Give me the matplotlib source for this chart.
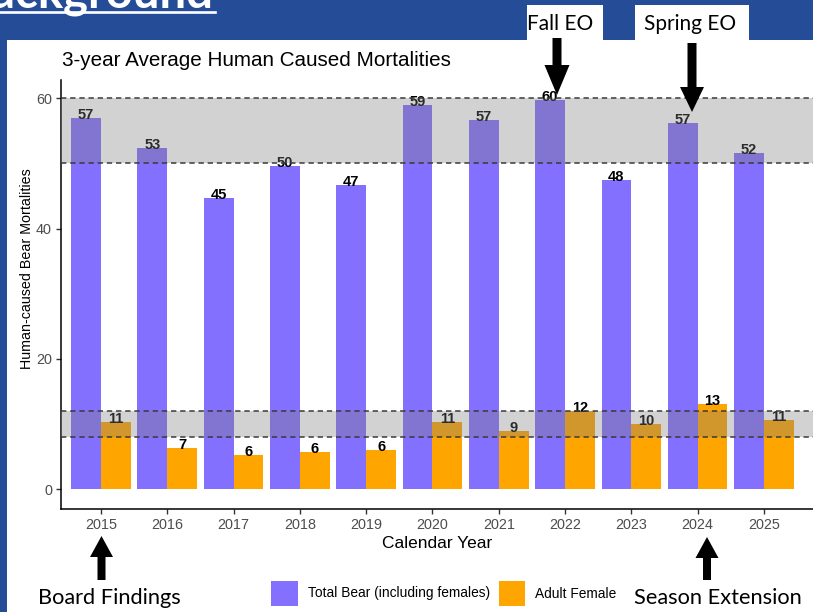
import matplotlib
matplotlib.use('Agg')
import matplotlib.pyplot as plt
from matplotlib.patches import Rectangle, Polygon
from matplotlib.lines import Line2D
import numpy as np

# ---------------- data ----------------
years = [2015, 2016, 2017, 2018, 2019, 2020, 2021, 2022, 2023, 2024, 2025]
total_bear = [57.0, 52.3, 44.7, 49.6, 46.6, 59.0, 56.7, 59.7, 47.5, 56.2, 51.6]
total_labels = ['57', '53', '45', '50', '47', '59', '57', '60', '48', '57', '52']
adult_female = [10.4, 6.3, 5.3, 5.7, 6.0, 10.3, 9.0, 12.1, 10.0, 13.1, 10.7]
female_labels = ['11', '7', '6', '6', '6', '11', '9', '12', '10', '13', '11']
series_names = ['Total Bear (including females)', 'Adult Female']
series_colors = ['#8470FF', '#FFA500']
upper_band = (50, 60)
lower_band = (8, 12)
y_ticks = [0, 20, 40, 60]
title = '3-year Average Human Caused Mortalities'
x_title = 'Calendar Year'
y_title = 'Human-caused Bear Mortalities'
top_notes = ['Fall EO', 'Spring EO']
bottom_notes = ['Board Findings', 'Season Extension']

# ---------------- figure ----------------
W, H = 813, 612
BLUE = '#254C97'
fig = plt.figure(figsize=(W / 100, H / 100), dpi=100, facecolor=BLUE)
chart_font = 'Liberation Sans'
slide_font = 'Lato'


def fx(x):
    return x / W


def fy(y):
    return 1 - y / H


def rect_px(x0, y0, x1, y1, color, z):
    fig.patches.append(Rectangle((fx(x0), fy(y1)), fx(x1) - fx(x0), fy(y0) - fy(y1),
                                 transform=fig.transFigure, facecolor=color,
                                 edgecolor='none', zorder=z))


# white slide panel and caption boxes
rect_px(7, 40, W, H, 'white', -2)
rect_px(527, 5, 603, 41, 'white', -2)
rect_px(635, 5, 749, 41, 'white', -2)

# slide heading (cut at top, as in the slide)
fig.text(fx(213), fy(8), 'Background', ha='right', va='baseline', fontsize=34,
         fontweight='bold', color='white', family=slide_font, zorder=3)
fig.lines.append(Line2D([fx(0), fx(215)], [fy(11.5), fy(11.5)], transform=fig.transFigure,
                        color='white', lw=1.9, zorder=3))

# ---------------- axes ----------------
ax = fig.add_axes([fx(61), fy(509), 1 - fx(61), fy(80) - fy(509)])
ax.set_facecolor('none')
x = np.array(years, dtype=float)
bw = 0.45
ax.bar(x - bw / 2, total_bear, width=bw, color=series_colors[0], zorder=2, lw=0)
ax.bar(x + bw / 2, adult_female, width=bw, color=series_colors[1], zorder=2, lw=0)

for xi, v, lab in zip(x - bw / 2, total_bear, total_labels):
    ax.text(xi, v - 0.15, lab, ha='center', va='baseline', fontsize=10.5,
            fontweight='bold', color='black', family=chart_font, zorder=3)
for xi, v, lab in zip(x + bw / 2, adult_female, female_labels):
    ax.text(xi, v - 0.15, lab, ha='center', va='baseline', fontsize=10.5,
            fontweight='bold', color='black', family=chart_font, zorder=3)

for lo, hi in (upper_band, lower_band):
    ax.axhspan(lo, hi, facecolor='#7f7f7f', alpha=0.35, lw=0, zorder=4)
    for yv in (lo, hi):
        ax.axhline(yv, color='#3a3a3a', lw=1.1, ls=(0, (3.5, 2.5)), zorder=5)

ax.set_xlim(2014.397, 2025.74)
ax.set_ylim(-2.99, 62.76)
ax.set_xticks(years)
ax.set_xticklabels([str(y) for y in years])
ax.set_yticks(y_ticks)
for s in ('top', 'right'):
    ax.spines[s].set_visible(False)
for s in ('left', 'bottom'):
    ax.spines[s].set_color('black')
    ax.spines[s].set_linewidth(1.1)
ax.tick_params(color='#333333', length=3.5, width=1, labelcolor='#4D4D4D', labelsize=10.4,
               pad=3)
for lab in ax.get_xticklabels() + ax.get_yticklabels():
    lab.set_family(chart_font)

# titles
fig.text(fx(62), fy(60), title, ha='left', va='center', fontsize=14.9,
         family=chart_font, color='black')
fig.text(fx(437), fy(543), x_title, ha='center', va='center', fontsize=12.5,
         family=chart_font, color='black')
fig.text(fx(27), fy(269), y_title, ha='center', va='center', rotation=90, fontsize=10.3,
         family=chart_font, color='black')

# legend
leg_boxes = [(271, 298), (499, 525)]
leg_text_x = [308, 535]
for (x0, x1), tx, name, col in zip(leg_boxes, leg_text_x, series_names, series_colors):
    rect_px(x0, 581, x1, 606, col, 3)
    fig.text(fx(tx), fy(593.5), name, ha='left', va='center', fontsize=9.9,
             family=chart_font, color='black')


# arrows and notes
def block_arrow(xc, y_tail, y_tip, head_len, shaft_w, head_w):
    d = 1 if y_tip > y_tail else -1
    yb = y_tip - d * head_len
    pts = [(xc - shaft_w / 2, y_tail), (xc + shaft_w / 2, y_tail), (xc + shaft_w / 2, yb),
           (xc + head_w / 2, yb), (xc, y_tip), (xc - head_w / 2, yb), (xc - shaft_w / 2, yb)]
    fig.patches.append(Polygon([(fx(a), fy(b)) for a, b in pts], closed=True,
                               transform=fig.transFigure, facecolor='black',
                               edgecolor='none', zorder=6))


block_arrow(557, 38, 95, 30, 9, 25)
block_arrow(692, 43, 112, 25, 9, 24)
block_arrow(101.5, 580, 536, 21, 8, 23)
block_arrow(707, 580, 537, 21, 8, 23)

fig.text(fx(560), fy(24.5), top_notes[0], ha='center', va='center', fontsize=15,
         family=slide_font, color='black', zorder=6)
fig.text(fx(690), fy(24.5), top_notes[1], ha='center', va='center', fontsize=15,
         family=slide_font, color='black', zorder=6)
fig.text(fx(109.5), fy(598), bottom_notes[0], ha='center', va='center', fontsize=15.7,
         family=slide_font, color='black', zorder=6)
fig.text(fx(718), fy(598), bottom_notes[1], ha='center', va='center', fontsize=15.7,
         family=slide_font, color='black', zorder=6)

fig.savefig('out.png', dpi=100, facecolor=BLUE)
